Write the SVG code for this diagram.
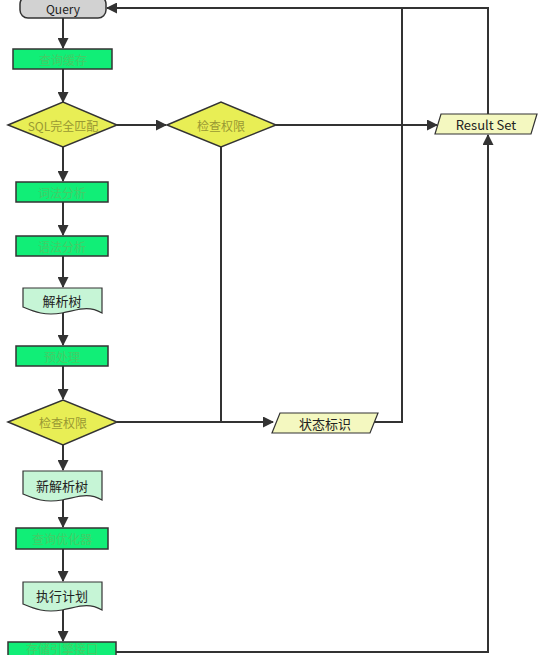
<svg xmlns="http://www.w3.org/2000/svg" width="538" height="655" viewBox="0 0 538 655">
<style>
.box{fill:#11ee77;stroke:#333;stroke-width:1.5}
.dia{fill:#e8ee55;stroke:#333;stroke-width:1.5}
.doc{fill:#c6f5d6;stroke:#333;stroke-width:1.2}
.io{fill:#f4f8c0;stroke:#333;stroke-width:1.2}
.term{fill:#d2d2d2;stroke:#333;stroke-width:1.5}
.c{fill:none;stroke:#333;stroke-width:2}
.t{font-family:"Noto Sans CJK SC","Liberation Sans",sans-serif;font-size:12px;text-anchor:middle;dominant-baseline:central}
.b{font-size:13px}
.tg{fill:#44cc66}
.ty{fill:#999933}
.td{fill:#222}
</style>
<defs>
<marker id="a" markerWidth="11" markerHeight="11" refX="10" refY="5.5" orient="auto" markerUnits="userSpaceOnUse">
<path d="M0,0 L11,5.5 L0,11 z" fill="#333"/>
</marker>
</defs>
<g id="connectors">
<line class="c" x1="63" y1="18" x2="63" y2="48" marker-end="url(#a)"/>
<line class="c" x1="63" y1="69" x2="63" y2="102" marker-end="url(#a)"/>
<line class="c" x1="117" y1="125" x2="166" y2="125" marker-end="url(#a)"/>
<line class="c" x1="276" y1="125" x2="437" y2="125" marker-end="url(#a)"/>
<line class="c" x1="63" y1="147" x2="63" y2="181" marker-end="url(#a)"/>
<line class="c" x1="63" y1="202" x2="63" y2="235" marker-end="url(#a)"/>
<line class="c" x1="63" y1="256" x2="63" y2="287" marker-end="url(#a)"/>
<line class="c" x1="63" y1="313" x2="63" y2="345" marker-end="url(#a)"/>
<line class="c" x1="63" y1="366" x2="63" y2="399" marker-end="url(#a)"/>
<line class="c" x1="63" y1="445" x2="63" y2="470" marker-end="url(#a)"/>
<line class="c" x1="63" y1="500" x2="63" y2="527" marker-end="url(#a)"/>
<line class="c" x1="63" y1="549" x2="63" y2="581" marker-end="url(#a)"/>
<line class="c" x1="63" y1="610" x2="63" y2="641" marker-end="url(#a)"/>
<line class="c" x1="117" y1="422" x2="273" y2="422" marker-end="url(#a)"/>
<line class="c" x1="221" y1="147" x2="221" y2="422"/>
<polyline class="c" points="374,422 402,422 402,8"/>
<polyline class="c" points="488,114 488,8 107,8" marker-end="url(#a)"/>
<polyline class="c" points="116,652 488,652 488,135" marker-end="url(#a)"/>
</g>
<g id="query"><rect class="term" x="20" y="-4" width="86" height="22" rx="8"/><text class="t td" x="63" y="8.5" font-family="Liberation Sans">Query</text></g>
<g id="cache"><rect class="box" x="13" y="49" width="99" height="20"/><text class="t tg" x="63" y="59">查询缓存</text></g>
<g id="match"><polygon class="dia" points="8,125 63,102 117,125 63,147"/><text class="t ty" x="63" y="125">SQL完全匹配</text></g>
<g id="perm1"><polygon class="dia" points="167,125 221,102 276,125 221,147"/><text class="t ty" x="221" y="125">检查权限</text></g>
<g id="result"><polygon class="io" points="441,114 537,114 531,134 435,134"/><text class="t td b" x="486" y="124">Result Set</text></g>
<g id="lex"><rect class="box" x="16" y="182" width="92" height="20"/><text class="t tg" x="62" y="192">词法分析</text></g>
<g id="syntax"><rect class="box" x="16" y="236" width="92" height="20"/><text class="t tg" x="62" y="246">语法分析</text></g>
<g id="tree"><path class="doc" d="M23,288 H102 V313 C88,305 78,310 62,313 C45,316 35,312 23,307 Z"/><text class="t td b" x="62" y="300">解析树</text></g>
<g id="pre"><rect class="box" x="16" y="346" width="92" height="20"/><text class="t tg" x="62" y="356">预处理</text></g>
<g id="perm2"><polygon class="dia" points="8,422 63,400 117,422 63,445"/><text class="t ty" x="63" y="422">检查权限</text></g>
<g id="status"><polygon class="io" points="280,413 378,413 370,433 272,433"/><text class="t td b" x="325" y="423">状态标识</text></g>
<g id="newtree"><path class="doc" d="M23,471 H102 V500 C88,492 78,497 62,500 C45,503 35,499 23,494 Z"/><text class="t td b" x="62" y="485">新解析树</text></g>
<g id="opt"><rect class="box" x="16" y="528" width="92" height="21"/><text class="t tg" x="62" y="538">查询优化器</text></g>
<g id="plan"><path class="doc" d="M23,582 H102 V610 C88,602 78,607 62,610 C45,613 35,609 23,604 Z"/><text class="t td b" x="62" y="595">执行计划</text></g>
<g id="engine"><rect class="box" x="8" y="642" width="108" height="20"/><text class="t tg" x="62" y="648" font-size="10">存储引擎接口</text></g>
</svg>
